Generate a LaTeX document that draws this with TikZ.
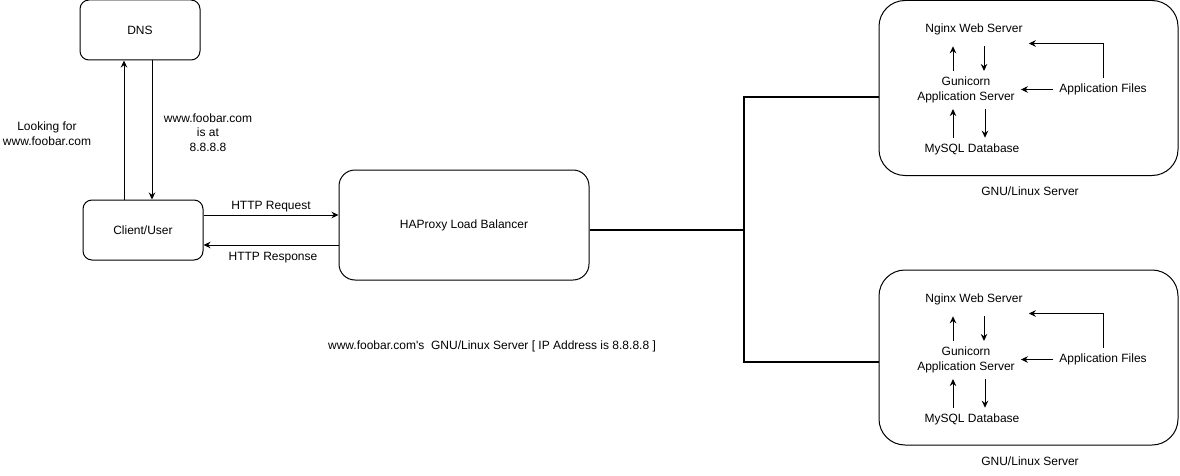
\documentclass[tikz,border=0pt]{standalone}
\usepackage{fontspec}
\setmainfont{Liberation Sans}
\usetikzlibrary{positioning,arrows.meta}

\begin{document}
\begin{tikzpicture}[x=1pt,y=-1pt]
\tikzstyle{every node}+=[inner sep=0pt, font=\fontsize{12}{14.5}\selectfont]
\tikzstyle{box}=[draw=black, line width=1pt, rounded corners=9pt, minimum width=120pt, minimum height=60pt]
\tikzstyle{txt}=[inner sep=6pt, align=center, yshift=-1.5pt]
\tikzstyle{arr}=[draw=black, line width=1pt, -{Stealth[length=7pt,width=6.5pt]}]
\tikzstyle{link}=[draw=black, line width=2pt]
\useasboundingbox (0,0) rectangle (1180,476);
\node [box] (dns) at (140,30) {DNS};
\node [box] (client) at (143,230) {Client/User};
\node [box, rounded corners=16pt, minimum width=250pt, minimum height=110pt] (lb) at (464,225) {HAProxy Load Balancer};
\node [box, rounded corners=26pt, minimum width=299pt, minimum height=175pt] (srv1) at (1028.5,88) {};
\node [box, rounded corners=26pt, minimum width=299pt, minimum height=175pt] (srv2) at (1028.5,357.5) {};
\node [txt] (look) at (47,132) {Looking for\\www.foobar.com};
\node [txt] (isat) at (208,131) {www.foobar.com\\is at\\8.8.8.8};
\node [txt] (req) at (271,205) {HTTP Request};
\node [txt] (resp) at (273,256) {HTTP Response};
\node [txt] (ip) at (492,345) {www.foobar.com\textquotesingle s\ \ GNU/Linux Server [ IP Address is 8.8.8.8 ]};
\node [txt] (os1) at (1030,190) {GNU/Linux Server};
\node [txt] (os2) at (1030,460) {GNU/Linux Server};
\node [txt, inner ysep=11pt] (web1) at (974,28) {Nginx Web Server};
\node [txt] (gun1) at (966,88.5) {Gunicorn\\Application Server};
\node [txt] (db1) at (972,148) {MySQL Database};
\node [txt] (app1) at (1103,88) {Application Files};
\node [txt, inner ysep=11pt] (web2) at (974,298) {Nginx Web Server};
\node [txt] (gun2) at (966,358.5) {Gunicorn\\Application Server};
\node [txt] (db2) at (972,418) {MySQL Database};
\node [txt] (app2) at (1103,358) {Application Files};
\coordinate (bus) at (744,230);
\draw [arr] ([xshift=-19pt]client.north) -- ([xshift=-19pt]client.north |- dns.south);
\draw [arr] ([xshift=12pt]dns.south) -- ([xshift=12pt]dns.south |- client.north);
\draw [arr] ([yshift=15pt]client.east) -- ([yshift=15pt]client.east -| lb.west);
\draw [arr] ([yshift=-15pt]client.east -| lb.west) -- ([yshift=-15pt]client.east);
\draw [link] ([yshift=-5pt]lb.east) -- (bus);
\draw [link] ([yshift=-9pt]srv1.west) -| (bus) |- ([yshift=-4.5pt]srv2.west);
\draw [arr] ([xshift=-13pt]gun1.north) -- ([xshift=-13pt]gun1.north |- web1.south);
\draw [arr] ([xshift=10pt]web1.south) -- ([xshift=10pt]web1.south |- gun1.north);
\draw [arr] ([xshift=-19pt]db1.north) -- ([xshift=-19pt]db1.north |- gun1.south);
\draw [arr] ([xshift=19pt]gun1.south) -- ([xshift=19pt]gun1.south |- db1.north);
\draw [arr] (app1.west) -- (app1.west -| gun1.east);
\draw [arr] (app1.north) |- ([yshift=-14pt]web1.east);
\draw [arr] ([xshift=-13pt]gun2.north) -- ([xshift=-13pt]gun2.north |- web2.south);
\draw [arr] ([xshift=10pt]web2.south) -- ([xshift=10pt]web2.south |- gun2.north);
\draw [arr] ([xshift=-19pt]db2.north) -- ([xshift=-19pt]db2.north |- gun2.south);
\draw [arr] ([xshift=19pt]gun2.south) -- ([xshift=19pt]gun2.south |- db2.north);
\draw [arr] (app2.west) -- (app2.west -| gun2.east);
\draw [arr] (app2.north) |- ([yshift=-14pt]web2.east);
\end{tikzpicture}
\end{document}
